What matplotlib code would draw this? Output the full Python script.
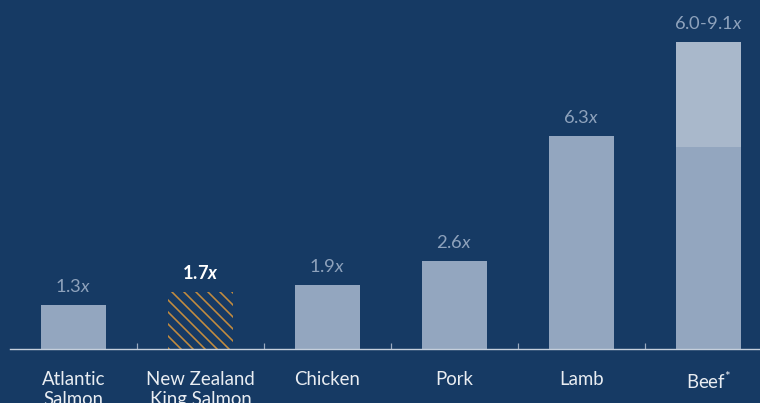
import matplotlib
matplotlib.use("Agg")
import matplotlib.pyplot as plt
import numpy as np

categories = ["Atlantic\nSalmon", "New Zealand\nKing Salmon", "Chicken", "Pork", "Lamb", "Beef$^{*}$"]
values = [1.3, 1.7, 1.9, 2.6, 6.3, 6.0]
beef_upper = 9.1
value_labels = ["1.3", "1.7", "1.9", "2.6", "6.3", "6.0-9.1"]
highlight_index = 1

BG = "#163a64"
BAR = "#93a6bf"
BAR_LIGHT = "#a9b8cb"
LABEL = "#8ea2bc"
TEXT = "#e9edf2"
AXIS = "#c5cfdc"
ORANGE = "#c38c3e"

plt.rcParams["font.family"] = ["Lato", "DejaVu Sans"]
plt.rcParams["mathtext.fontset"] = "custom"
plt.rcParams["mathtext.rm"] = "Lato"
plt.rcParams["mathtext.it"] = "Lato:italic"
plt.rcParams["mathtext.bf"] = "Lato:italic:bold"
plt.rcParams["hatch.linewidth"] = 0.8

DPI = 144
fig = plt.figure(figsize=(760 / DPI, 403 / DPI), dpi=DPI, facecolor=BG)
ax = fig.add_axes([10 / 760, 54 / 403, 750 / 760, 349 / 403])
ax.set_facecolor(BG)

x = np.arange(len(categories))
width = 0.504

for i, v in enumerate(values):
    if i == highlight_index:
        ax.bar(x[i], v, width=width, facecolor="none", edgecolor=ORANGE,
               linewidth=0, hatch="\\\\\\\\")
    else:
        ax.bar(x[i], v, width=width, color=BAR, linewidth=0)

# Beef upper range
ax.bar(x[-1], beef_upper - values[-1], bottom=values[-1], width=width,
       color=BAR_LIGHT, linewidth=0)

tops = list(values[:-1]) + [beef_upper]
for i, (t, lab) in enumerate(zip(tops, value_labels)):
    if i == highlight_index:
        s = lab + r"$\mathbf{x}$"
        ax.annotate(s, (x[i], t), xytext=(0, 6.5), textcoords="offset points",
                    ha="center", va="baseline", fontsize=9.2, color="white",
                    fontweight="bold")
    else:
        s = lab + r"$\it{x}$"
        ax.annotate(s, (x[i], t), xytext=(0, 6.5), textcoords="offset points",
                    ha="center", va="baseline", fontsize=9.2, color=LABEL)

ax.set_xlim(-0.5, -0.5 + 750 / 127)
ax.set_ylim(0, 349 / 33.75)

for s in ["top", "right", "left"]:
    ax.spines[s].set_visible(False)
ax.spines["bottom"].set_color(AXIS)
ax.spines["bottom"].set_linewidth(0.7)

ax.set_yticks([])
ax.set_xticks(x)
ax.set_xticklabels(categories, fontsize=9.3, color=TEXT, linespacing=1.2)
ax.tick_params(axis="x", which="major", length=0, pad=11)
ax.set_xticks(x[:-1] + 0.5, minor=True)
ax.tick_params(axis="x", which="minor", direction="in", length=3, width=0.6,
               color="#9aaac0")

fig.savefig("out.png", dpi=DPI, facecolor=BG)
